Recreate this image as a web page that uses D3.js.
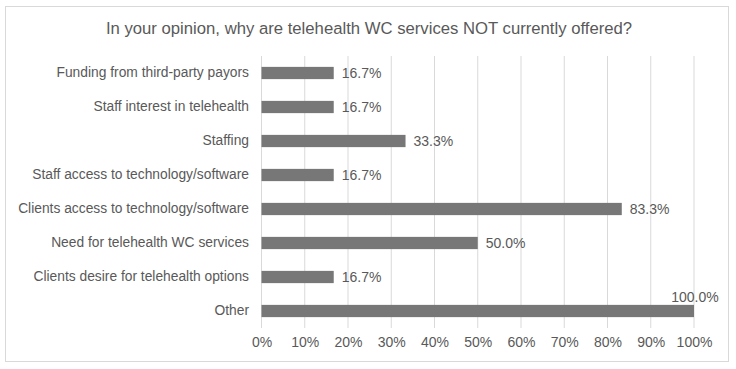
<!DOCTYPE html>
<html><head><meta charset="utf-8">
<script src="https://cdn.jsdelivr.net/npm/d3@7"></script>
<style>body{margin:0;background:#fff}svg{display:block;font-family:"Liberation Sans",Arial,sans-serif}</style>
</head><body><svg id="c" width="736" height="369"></svg>
<script>
const title = "In your opinion, why are telehealth WC services NOT currently offered?";
const categories = ["Funding from third-party payors","Staff interest in telehealth","Staffing","Staff access to technology/software","Clients access to technology/software","Need for telehealth WC services","Clients desire for telehealth options","Other"];
const values = [16.7,16.7,33.3,16.7,83.3,50.0,16.7,100.0];
const ticks = [0,10,20,30,40,50,60,70,80,90,100];

const svg = d3.select("#c");
const txt = "#595959";
svg.append("rect").attr("x",5.5).attr("y",6.5).attr("width",723).attr("height",355)
  .attr("fill","#fff").attr("stroke","#d9d9d9");
svg.append("text").attr("x",369).attr("y",34).attr("text-anchor","middle")
  .attr("font-size",16.7).attr("fill",txt).text(title);

const x = d3.scaleLinear().domain([0,100]).range([261.5,694]);
const y = d3.scaleBand().domain(categories).range([56,328]).paddingInner(0.64).paddingOuter(0.32);

const g = svg.append("g");
g.selectAll("line.grid").data(ticks).join("line").attr("class","grid")
  .attr("x1",d=>x(d)).attr("x2",d=>x(d)).attr("y1",56).attr("y2",328)
  .attr("stroke","#d9d9d9").attr("stroke-width",1);

const xAxis = d3.axisBottom(x).tickValues(ticks).tickFormat(d=>d+"%").tickSize(0).tickPadding(0);
const ax = svg.append("g").attr("transform","translate(0,337)").call(xAxis);
ax.select(".domain").remove();
ax.selectAll("text").attr("font-size",14).attr("fill",txt).attr("font-family","Liberation Sans, Arial, sans-serif").attr("dy","0.71em");

const yAxis = d3.axisLeft(y).tickSize(0).tickPadding(0);
const ay = svg.append("g").attr("transform","translate(249,0)").call(yAxis);
ay.select(".domain").remove();
ay.selectAll("text").attr("font-size",13.8).attr("fill",txt).attr("font-family","Liberation Sans, Arial, sans-serif");

g.selectAll("rect.bar").data(values).join("rect").attr("class","bar")
  .attr("x",x(0)).attr("y",(d,i)=>y(categories[i]))
  .attr("width",d=>x(d)-x(0)).attr("height",y.bandwidth())
  .attr("fill","#777777");

g.selectAll("text.val").data(values).join("text").attr("class","val")
  .attr("x",d=> d>=100 ? x(d)+1 : x(d)+8)
  .attr("y",(d,i)=> d>=100 ? y(categories[i])-3 : y(categories[i])+y.bandwidth()/2)
  .attr("dy",d=> d>=100 ? 0 : "0.35em")
  .attr("text-anchor",d=> d>=100 ? "middle" : "start")
  .attr("font-size",14).attr("fill",txt)
  .text(d=>d.toFixed(1)+"%");
</script></body></html>
